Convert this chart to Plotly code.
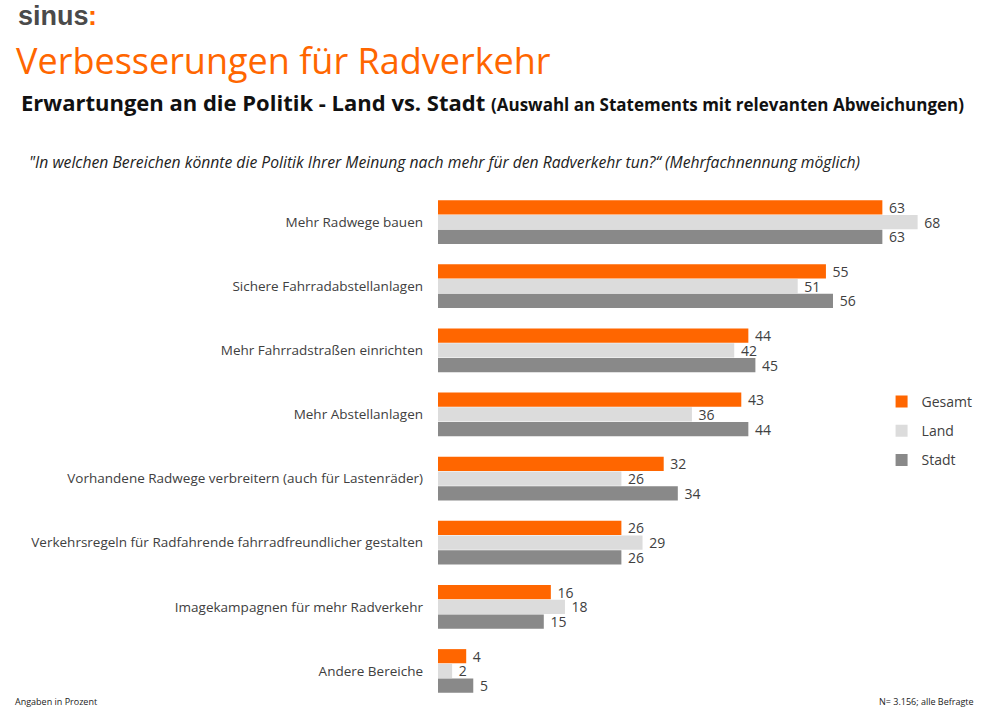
import plotly.graph_objects as go

categories = [
    "Mehr Radwege bauen",
    "Sichere Fahrradabstellanlagen",
    "Mehr Fahrradstraßen einrichten",
    "Mehr Abstellanlagen",
    "Vorhandene Radwege verbreitern (auch für Lastenräder)",
    "Verkehrsregeln für Radfahrende fahrradfreundlicher gestalten",
    "Imagekampagnen für mehr Radverkehr",
    "Andere Bereiche",
]
gesamt = [63, 55, 44, 43, 32, 26, 16, 4]
land = [68, 51, 42, 36, 26, 29, 18, 2]
stadt = [63, 56, 45, 44, 34, 26, 15, 5]

series_names = ["Gesamt", "Land", "Stadt"]
series_values = [gesamt, land, stadt]
series_colors = ["#FF6600", "#DCDCDC", "#898989"]

W, H = 1000, 716
# plot area in window pixels
X0, X1, Y0, Y1 = 438, 967.5, 190, 703
L, R, T, B = X0, W - X1, Y0, H - Y1
PW = X1 - X0
PH = Y1 - Y0
FONT = "Open Sans"
TXT = "#404040"


def px2x(px):
    return (px - X0) / PW


def py2y(py):
    return (Y1 - py) / PH


fig = go.Figure()
for name, vals, col in zip(series_names, series_values, series_colors):
    fig.add_trace(go.Bar(
        y=categories, x=vals, name=name, orientation="h",
        marker=dict(color=col, line=dict(width=0)),
        text=["\u00a0" + str(v) for v in vals], textposition="outside",
        constraintext="none",
        textfont=dict(family=FONT, size=14, color=TXT),
        cliponaxis=False, legendgroup=name,
        hoverinfo="x+name",
    ))


def ann(x, y, text, size, color, xanchor="left", family=FONT):
    return dict(x=px2x(x), y=py2y(y), xref="paper", yref="paper", text=text,
                showarrow=False, xanchor=xanchor, yanchor="middle", borderpad=0,
                font=dict(family=family, size=size, color=color))


annotations = [
    ann(17, 16, "<b>sinus</b>", 27, "#4a4a4a", family="Liberation Sans"),
    ann(87, 16, "<b>:</b>", 27, "#FF6600", family="Liberation Sans"),
    ann(15, 61, "Verbesserungen für Radverkehr", 36, "#FF6600"),
    ann(20, 102,
        "<b>Erwartungen an die Politik - Land vs. Stadt</b> <b><span style='font-size:17px'>(Auswahl an Statements mit relevanten Abweichungen)</span></b>",
        22, "#111111"),
    ann(28, 162,
        "<i>\"In welchen Bereichen könnte die Politik Ihrer Meinung nach mehr für den Radverkehr tun?“ (Mehrfachnennung möglich)</i>",
        15.7, "#222222"),
    ann(14, 701, "Angaben in Prozent", 9, "#222222"),
    ann(976, 701, "N= 3.156; alle Befragte", 9, "#222222", xanchor="right"),
]

fig.update_layout(
    width=W, height=H,
    margin=dict(l=L, r=R, t=T, b=B, pad=0, autoexpand=False),
    paper_bgcolor="white", plot_bgcolor="white",
    barmode="group", bargap=0.31, bargroupgap=0.04,
    showlegend=True,
    legend=dict(x=px2x(882), y=py2y(386), xanchor="left", yanchor="top",
                font=dict(family=FONT, size=14, color=TXT),
                tracegroupgap=8, traceorder="grouped", itemwidth=30,
                bgcolor="rgba(0,0,0,0)"),
    xaxis=dict(range=[0, 75], visible=False, fixedrange=True),
    yaxis=dict(autorange="reversed", showgrid=False, showline=False, ticks="",
               ticklabelstandoff=14, automargin=False,
               tickfont=dict(family=FONT, size=13.5, color=TXT), fixedrange=True),
    annotations=annotations,
    font=dict(family=FONT),
)

fig.write_html("out.html", config={"displayModeBar": False},
               post_script="document.body.style.margin='0px';")
